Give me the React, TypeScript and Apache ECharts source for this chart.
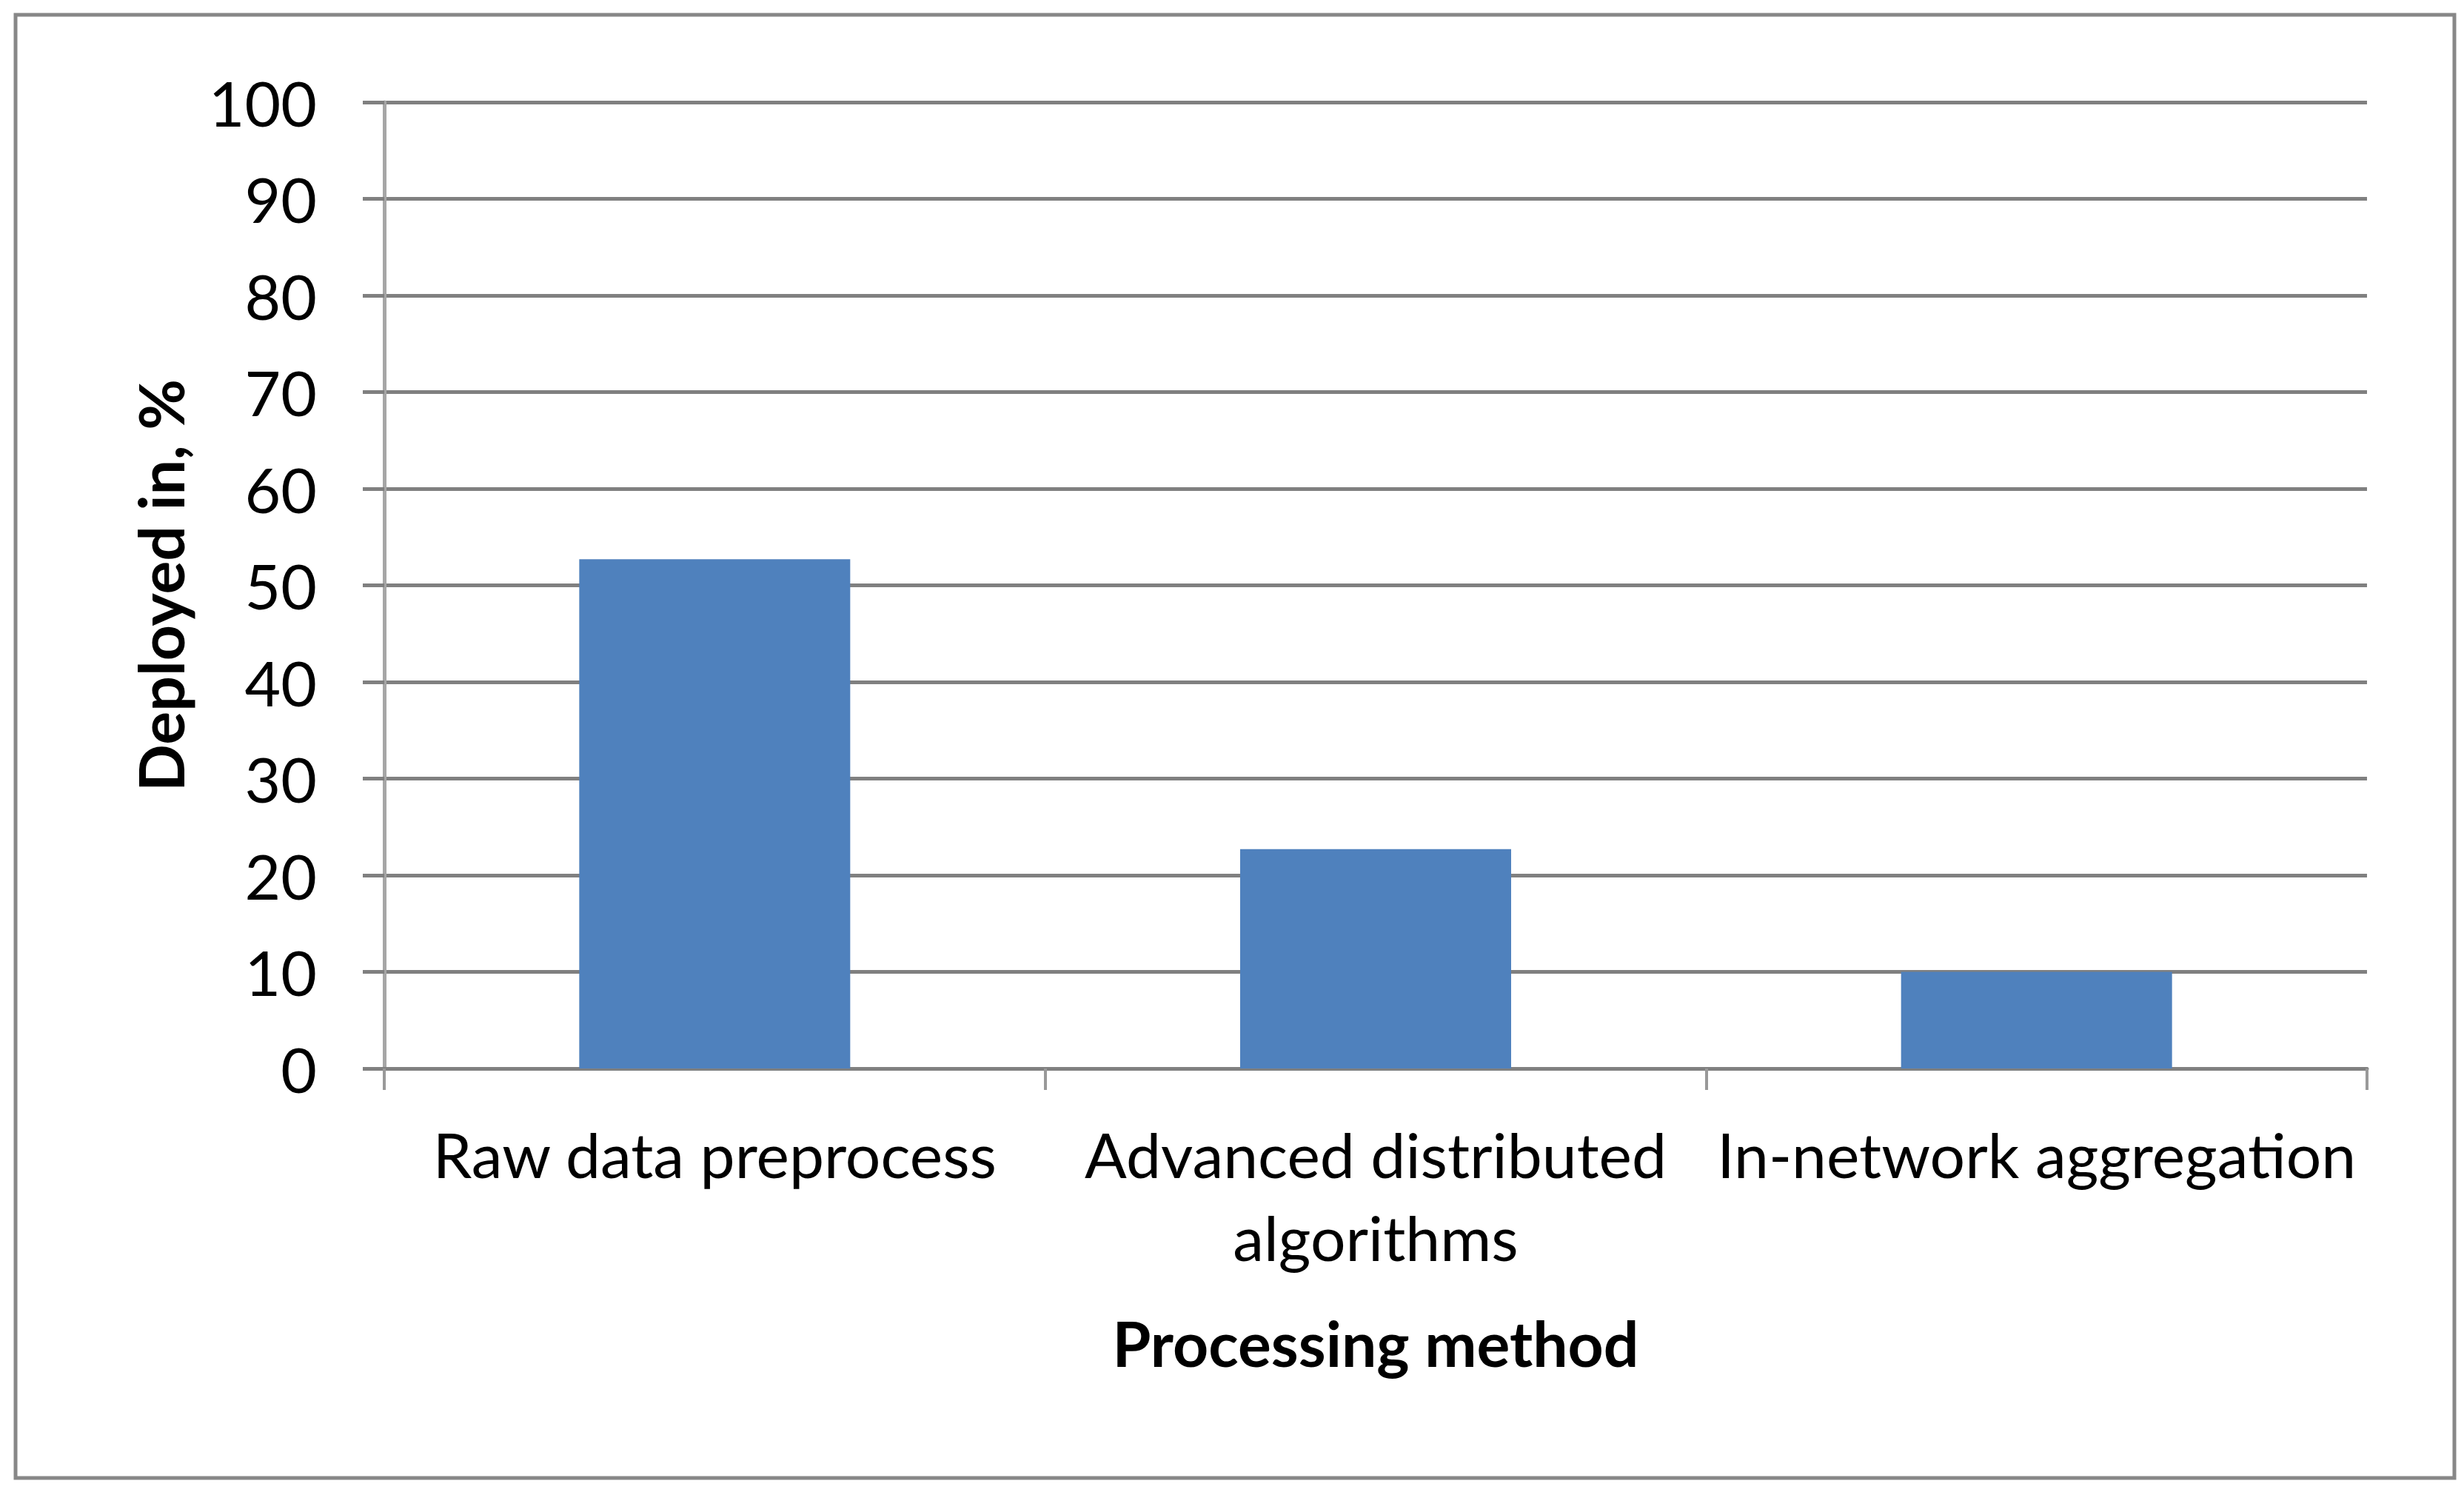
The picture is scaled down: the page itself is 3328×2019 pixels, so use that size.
import React, { useEffect, useRef } from "react";
import * as echarts from "echarts";

const categories = [
  "Raw data preprocess",
  "Advanced distributed\nalgorithms",
  "In-network aggregation",
];
const deployedValues = [52.7, 22.7, 10.0];
const yTicks = { min: 0, max: 100, interval: 10 };
const xTitle = "Processing method";
const yTitle = "Deployed in, %";

const FONT = "Lato, 'Open Sans', sans-serif";

export default function App() {
  const ref = useRef<HTMLDivElement>(null);
  useEffect(() => {
    if (!ref.current) return;
    const chart = echarts.init(ref.current, undefined, { renderer: "svg" });
    chart.setOption({
      animation: false,
      backgroundColor: "#ffffff",
      textStyle: { fontFamily: FONT },
      graphic: [
        {
          type: "rect",
          shape: { x: 21, y: 20, width: 3294, height: 1976 },
          style: { fill: "none", stroke: "#878787", lineWidth: 5 },
          z: -1,
        },
      ],
      grid: { left: 519, right: 131, top: 138, bottom: 576, containLabel: false },
      xAxis: {
        type: "category",
        data: categories,
        boundaryGap: true,
        name: xTitle,
        nameLocation: "middle",
        nameGap: 328,
        nameTextStyle: { fontFamily: FONT, fontSize: 84, fontWeight: "bold", color: "#000" },
        axisLine: { show: true, lineStyle: { color: "#808080", width: 5 } },
        axisTick: { show: true, length: 29, alignWithLabel: false, lineStyle: { color: "#999999", width: 4 } },
        axisLabel: {
          interval: 0,
          margin: 59,
          fontFamily: FONT,
          fontSize: 84,
          lineHeight: 112,
          color: "#000",
        },
        splitLine: { show: false },
      },
      yAxis: {
        type: "value",
        min: yTicks.min,
        max: yTicks.max,
        interval: yTicks.interval,
        name: yTitle,
        nameLocation: "middle",
        nameRotate: 90,
        nameGap: 261,
        nameTextStyle: { fontFamily: FONT, fontSize: 84, fontWeight: "bold", color: "#000" },
        axisLine: { show: true, lineStyle: { color: "#a6a6a6", width: 5 } },
        axisTick: { show: true, length: 29, lineStyle: { color: "#808080", width: 5 } },
        axisLabel: {
          margin: 91,
          fontFamily: FONT,
          fontSize: 84,
          color: "#000",
          padding: [26, 0, 0, 0],
        },
        splitLine: { show: true, lineStyle: { color: "#808080", width: 5 } },
      },
      series: [
        {
          type: "bar",
          data: deployedValues,
          barCategoryGap: "59%",
          itemStyle: { color: "#4F81BD" },
          z: 3,
        },
      ],
    });
    return () => chart.dispose();
  }, []);
  return (
    <div
      ref={ref}
      style={{ position: "fixed", left: 0, top: 0, width: 3328, height: 2019 }}
    />
  );
}
